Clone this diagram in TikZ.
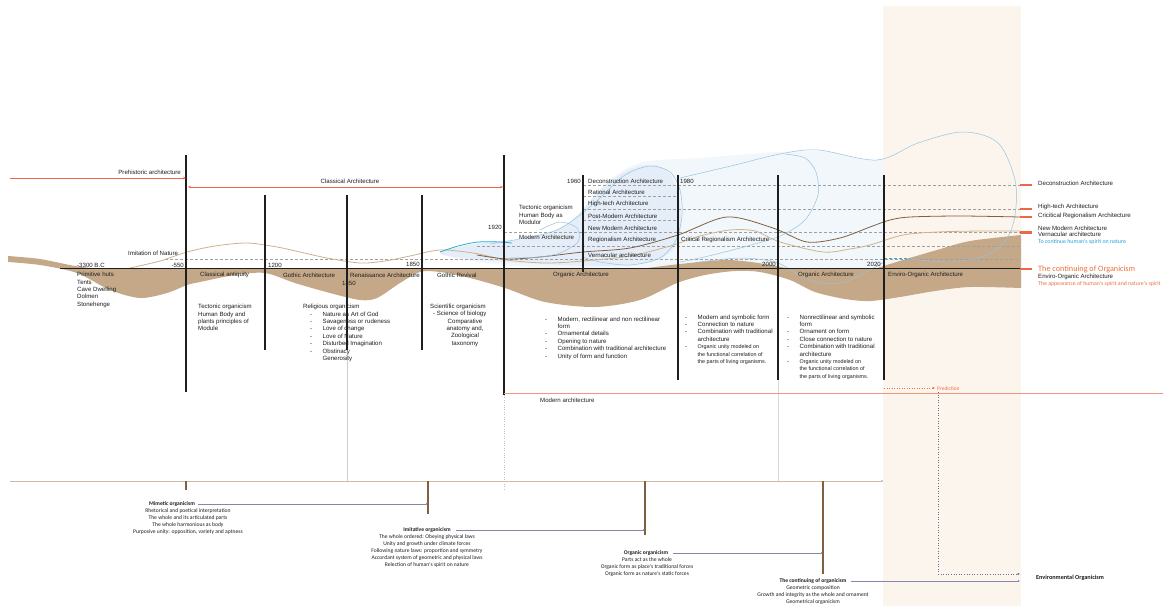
\documentclass[tikz,border=0pt]{standalone}
\usepackage{fontspec}
\setmainfont{Liberation Sans}
\newfontfamily\notefont{Carlito}
\usetikzlibrary{arrows.meta}

\definecolor{bandtan}{RGB}{196,168,136}
\definecolor{darkbrown}{RGB}{128,96,66}
\definecolor{lighttan}{RGB}{206,178,142}
\definecolor{peach}{RGB}{252,245,238}
\definecolor{redline}{RGB}{236,104,72}
\definecolor{orangetext}{RGB}{236,112,64}
\definecolor{bluetext}{RGB}{40,160,220}
\definecolor{blueline}{RGB}{150,195,222}
\definecolor{cyanline}{RGB}{40,172,212}
\definecolor{bluefill}{RGB}{242,247,251}
\definecolor{bluedeep}{RGB}{229,238,248}
\definecolor{linkgray}{RGB}{130,136,170}
\definecolor{timetan}{RGB}{205,188,165}
\definecolor{ink}{RGB}{30,30,30}

\newcommand{\itm}[1]{\makebox[12.5pt][l]{-}#1}
\newcommand{\cnt}[1]{\hspace*{12.5pt}#1}

\tikzset{
  lbl/.style={font=\fontsize{6.1}{7}\selectfont, inner sep=0pt, anchor=west, text=ink},
  lst/.style={font=\fontsize{6.1}{7.4}\selectfont, inner sep=0pt, anchor=north west, align=left, text=ink},
  era/.style={line width=1.2pt, draw=ink},
  guide/.style={draw=gray!75, line width=0.5pt, dash pattern=on 3pt off 2pt},
  note/.style={font=\notefont\fontsize{5.6}{7}\selectfont, inner sep=0pt, align=center, anchor=north, text=ink},
  notehead/.style={font=\notefont\bfseries\fontsize{5.6}{6}\selectfont, inner sep=0pt, text=ink},
  brtick/.style={draw=darkbrown, line width=1.2pt},
  link/.style={draw=linkgray, line width=0.4pt, -{Latex[length=2pt,width=2pt]}},
  redtick/.style={draw=redline, line width=1.5pt},
  blob/.style={draw=blueline, line width=0.5pt},
}

\begin{document}
\begin{tikzpicture}[x=1pt,y=-1pt]
    \useasboundingbox[fill=white] (0,0) rectangle (1163,608);

    % light blue cloud of the modern movements
    \fill[bluefill] plot[smooth cycle, tension=0.6] coordinates {(440,253) (480,243) (530,238) (570,222) (605,185) (640,163) (700,158) (780,152) (830,152) (875,160) (920,143) (963,132) (1000,143) (1016,190) (1012,232) (990,255) (950,263) (900,262) (850,282) (815,284) (780,268) (700,266) (620,272) (540,268) (480,262)};
    \fill[bluedeep] plot[smooth cycle, tension=0.6] coordinates {(440,253) (480,243) (530,238) (570,222) (605,185) (640,166) (668,172) (681,210) (676,245) (650,262) (600,266) (540,264) (480,260)};
    \fill[peach] (883,6) rectangle (1021,606);

    % organicism band
    \fill[bandtan] plot[smooth] coordinates {(8,256) (40,259) (75,266) (100,269)} -- (640,269)
      -- plot[smooth] coordinates {(640,269) (680,264) (727,260) (765,264) (790,269)} -- (874,269)
      -- plot[smooth] coordinates {(874,269) (903,260) (937,250) (970,241) (1021,235)} -- (1021,288)
      -- plot[smooth] coordinates {(1021,288) (970,287) (935,291) (900,297) (870,301) (845,299) (815,292) (790,280) (760,272) (735,271) (705,275) (677,283) (640,300) (595,307) (545,302) (505,288) (470,278) (440,272) (420,272) (400,283) (377,298) (360,300) (330,293) (295,283) (265,273) (235,275) (200,282) (187,285) (167,293) (140,298) (110,290) (77,273) (40,265) (8,262)} -- cycle;

    % guide levels
    \draw[guide] (165,259) -- (1020,259);
    \draw[guide] (477,246) -- (1020,246);
    \draw[guide] (504,232) -- (1020,232);
    \draw[guide] (583,220) -- (678,220);
    \draw[guide] (583,209) -- (1020,209);
    \draw[guide] (583,196) -- (678,196);
    \draw[guide] (583,185) -- (1020,185);
    \draw[guide, draw=cyanline] (884,258) -- (910,258);

    % trend lines
    \draw[lighttan, line width=0.8pt] plot[smooth] coordinates {(130,268) (160,261) (187,252) (215,246) (247,243) (277,247) (300,252) (327,258) (360,263) (385,261) (410,256) (440,250) (473,253) (507,260) (545,263) (583,261) (630,256) (670,246) (700,236) (730,230) (755,231) (780,242) (823,252) (850,249) (870,245) (903,235) (937,232) (980,231) (1020,231)};
    \draw[darkbrown, line width=0.8pt] plot[smooth] coordinates {(477,255) (507,259) (540,257) (583,252) (630,248) (678,235) (727,217) (773,228) (807,242) (840,238) (870,227) (890,220) (910,217) (960,216) (1020,217)};

    % cloud outlines
    \draw[cyanline, line width=0.8pt] plot[smooth] coordinates {(440,252) (458,246) (478,242) (500,242) (512,243)};
    \draw[blob] plot[smooth] coordinates {(490,244) (525,238) (557,230) (580,215) (600,198) (625,175) (650,166) (670,172) (680,190) (682,215) (676,240) (660,258) (630,265) (600,262) (583,257)};
    \draw[blob] plot[smooth] coordinates {(510,258) (540,257) (560,253) (578,242) (577,228) (560,222) (540,230)};
    \draw[blob] plot[smooth, tension=0.55] coordinates {(680,178) (735,165) (780,154) (818,150) (877,160) (918,143) (963,132) (998,143) (1015,180) (1015,215) (1006,240) (985,256) (950,262) (910,259)};
    \draw[blob] plot[smooth] coordinates {(785,154) (805,158) (816,172) (818,195) (805,220) (780,236) (740,248) (700,258) (680,262)};
    \draw[blob] plot[smooth] coordinates {(700,262) (740,258) (775,262) (800,275) (820,283) (845,282) (870,270) (884,262)};

    % time axis and eras
    \draw[ink, line width=0.9pt] (60,268) -- (1020,268);
    \draw[redtick] (1020,269) -- (1032,269);
    \draw[era] (186,155) -- (186,392);
    \draw[era] (265,195) -- (265,350);
    \draw[era] (347,195) -- (347,350);
    \draw[era] (422,195) -- (422,350);
    \draw[era] (504,155) -- (504,395);
    \draw[era] (583,175) -- (583,272);
    \draw[era] (678,175) -- (678,380);
    \draw[era] (778,175) -- (778,380);
    \draw[era] (884,175) -- (884,380);
    \draw[gray!40, line width=0.4pt] (347,352) -- (347,481);
    \draw[gray!50, line width=0.4pt, dotted] (504,395) -- (504,490);
    \draw[gray!30, line width=0.4pt] (778,380) -- (778,481);

    % right pointers
    \draw[redtick] (1020,185) -- (1032,185);
    \draw[redtick] (1020,209) -- (1032,209);
    \draw[redtick] (1020,217) -- (1032,217);
    \draw[redtick, line width=3pt] (1020,232) -- (1032,232);

    % periods
    \coordinate (preS) at (10,178);
    \coordinate (preE) at (186,178);
    \coordinate (clsS) at (188,187);
    \coordinate (clsE) at (503,187);
    \coordinate (modS) at (504,393);
    \coordinate (modE) at (1163,393);
    \draw[redline, line width=0.5pt, -{Stealth[length=3pt,width=2.5pt]}] (preS) -- (preE);
    \draw[redline, line width=0.5pt, {Stealth[length=3pt,width=2.5pt]}-{Stealth[length=3pt,width=2.5pt]}] (clsS) -- (clsE);
    \draw[redline!70, line width=0.6pt] (modS) -- (modE);
    \node[lbl, anchor=east] (prehist) at (181,172) {Prehistoric architecture};
    \node[lbl, anchor=center] (classic) at (350,181) {Classical Architecture};
    \node[lbl] (modarch) at (540,400) {Modern architecture};

    % dates
    \node[lbl] (imit) at (128,253) {Imitation of Nature};
    \node[lbl] (bc) at (77,265) {-3300 B.C};
    \node[lbl, anchor=east] (d550) at (184,265) {-550};
    \node[lbl] (d1200) at (268,265) {1200};
    \node[lbl] (d1450) at (342,283) {1450};
    \node[lbl] (d1850) at (406,264) {1850};
    \node[lbl, anchor=east] (d1920) at (502,227) {1920};
    \node[lbl, anchor=east] (d1960) at (581,181) {1960};
    \node[lbl] (d1980) at (680,181) {1980};
    \node[lbl, anchor=east] (d2000) at (776,264) {2000};
    \node[lbl, anchor=east] (d2020) at (881,264) {2020};

    % era names
    \node[lbl] (eClass) at (200,275) {Classical antiquity};
    \node[lbl] (eGoth) at (283,275) {Gothic Architecture};
    \node[lbl] (eRen) at (350,275) {Renaissance Architecture};
    \node[lbl] (eRev) at (437,275) {Gothic Revival};
    \node[lbl] (eOrg) at (553,275) {Organic Architecture};
    \node[lbl] (eOrgB) at (798,275) {Organic Architecture};
    \node[lbl] (eEnv) at (888,275) {Enviro-Organic Architecture};

    % movements 1960-1980
    \node[lbl] (mDec) at (588,181) {Deconstruction Architecture};
    \node[lbl] (mRat) at (588,192) {Rational Architecture};
    \node[lbl] (mHigh) at (588,204) {High-tech Architecture};
    \node[lbl] (mPost) at (588,216) {Post-Modern Architecture};
    \node[lbl] (mNew) at (588,228) {New Modern Architecture};
    \node[lbl] (mReg) at (588,240) {Regionalism Architecture};
    \node[lbl] (mVer) at (588,255) {Vernacular architecture};
    \node[lbl] (mCrit) at (681,240) {Critical Regionalism Architecture};
    \node[lst] (tect20) at (519,205) {Tectonic organicism\\Human Body as\\Modulor};
    \node[lbl] (mMod) at (519,237) {Modern Architecture};

    % descriptions
    \node[lst] (prim) at (77,272) {Primitive huts\\Tents\\Cave Dwelling\\Dolmen\\Stonehenge};
    \node[lst] (tect) at (198,304) {Tectonic organicism\\Human Body and\\plants principles of\\Module};
    \node[lbl] (relHead) at (303,307) {Religious organicism};
    \node[lst] (rel) at (310,311.5) {\itm{Nature as Art of God}\\\itm{Savageness or rudeness}\\\itm{Love of change}\\\itm{Love of Nature}\\\itm{Disturbed Imagination}\\\itm{Obstinacy}\\\cnt{Generosity}};
    \node[lbl] (sciHead) at (430,307) {Scientific organicism};
    \node[lbl] (sciBio) at (433,314) {- Science of biology};
    \node[lst, anchor=north, align=center] (sci) at (465,318.5) {Comparative\\anatomy and,\\Zoological\\taxonomy};
    \node[lst] (orgA) at (545,316.5) {\itm{Modern, rectilinear and non rectilinear}\\\cnt{form}\\\itm{Ornamental details}\\\itm{Opening to nature}\\\itm{Combination with traditional architecture}\\\itm{Unity of form and function}};
    \node[lst] (orgB) at (685,314.5) {\itm{Modern and symbolic form}\\\itm{Connection to nature}\\\itm{Combination with traditional}\\\cnt{architecture}\\\itm{\fontsize{5.4}{7.4}\selectfont Organic unity modeled on}\\\cnt{\fontsize{5.4}{7.4}\selectfont the functional correlation of}\\\cnt{\fontsize{5.4}{7.4}\selectfont the parts of living organisms.}};
    \node[lst] (orgC) at (787,314.5) {\itm{Nonrectilinear and symbolic}\\\cnt{form}\\\itm{Ornament on form}\\\itm{Close connection to nature}\\\itm{Combination with traditional}\\\cnt{architecture}\\\itm{\fontsize{5.4}{7.4}\selectfont Organic unity modeled on}\\\cnt{\fontsize{5.4}{7.4}\selectfont the functional correlation of}\\\cnt{\fontsize{5.4}{7.4}\selectfont the parts of living organisms.}};

    % right legend
    \node[lbl] (rDec) at (1038,183) {Deconstruction Architecture};
    \node[lbl] (rHigh) at (1038,207) {High-tech Architecture};
    \node[lbl] (rCrit) at (1038,216) {Cricitical Regionalism Architecture};
    \node[lbl] (rNew) at (1038,228) {New Modern Architecture};
    \node[lbl] (rVer) at (1038,234) {Vernacular architecture};
    \node[lbl, font=\notefont\fontsize{5.9}{6}\selectfont, text=bluetext] (rSpirit) at (1038,241.5) {To continue human's spirit on nature};
    \node[lbl, font=\notefont\fontsize{8.2}{8}\selectfont, text=orangetext] (rCont) at (1038,269) {The continuing of Organicism};
    \node[lbl] (rEnv) at (1038,277) {Enviro-Organic Architecture};
    \node[lbl, font=\notefont\fontsize{5.8}{6}\selectfont, text=orangetext] (rApp) at (1038,284) {The appearance of human's spirit and nature's spirit};

    % prediction
    \coordinate (predS) at (884,388);
    \coordinate (predE) at (935,388);
    \node[lbl, font=\notefont\fontsize{5.4}{6}\selectfont, text=orangetext] (pred) at (937,389) {Prediction};
    \draw[orangetext, dotted, line width=0.5pt, -{Latex[length=2.5pt,width=2.5pt]}] (predS) -- (predE);
    \coordinate (envC) at (938,574);
    \node[notehead, anchor=west, font=\notefont\bfseries\fontsize{6.2}{7}\selectfont] (envOrg) at (1036,578) {Environmental Organicism};
    \draw[linkgray!80!black, dotted, line width=0.6pt, -{Latex[length=2.5pt,width=2.5pt]}] (938,392) -- (envC) -- (1020,574);

    % organicism timeline
    \draw[timetan, line width=0.8pt, -{Latex[length=3pt,width=2.5pt]}] (10,481) -- (884,481);
    \coordinate (tkA) at (186,481);
    \coordinate (tkB) at (428,481);
    \coordinate (tkC) at (645,481);
    \coordinate (tkD) at (823,481);
    \draw[brtick] (tkA) -- ++(0,9);
    \draw[brtick] (tkB) -- ++(0,33);
    \draw[brtick] (tkC) -- ++(0,54);
    \draw[brtick] (tkD) -- ++(0,93);

    \node[notehead] (mimHead) at (172,504) {Mimetic organicism};
    \node[note] (mim) at (188,508) {Rhetorical and poetical interpretation\\The whole and its articulated parts\\The whole harmonious as body\\Purposive unity: opposition, variety and aptness};
    \draw[link] ([xshift=3pt]mimHead.east) -- (mimHead.east -| tkB);

    \node[notehead] (imiHead) at (427,530) {Imitative organicism};
    \node[note] (imi) at (427,534) {The whole ordered: Obeying physical laws\\Unity and growth under climate forces\\Following nature laws: proportion and symmetry\\Accordant system of geometric and physical laws\\Relection of human's spirit on nature};
    \draw[link] ([xshift=5pt]imiHead.east) -- (imiHead.east -| tkC);

    \node[notehead] (orgHead) at (646,553) {Organic organicism};
    \node[note] (org) at (647,557) {Parts act as the whole\\Organic form as place's traditional forces\\Organic form as nature's static forces};
    \draw[link] ([xshift=5pt]orgHead.east) -- (orgHead.east -| tkD);

    \node[notehead] (conHead) at (813,581) {The continuing of organicism};
    \node[note] (con) at (813,585) {Geometric composition\\Growth and integrity as the whole and ornament\\Geometrical organicism};
    \coordinate (conE) at (1020,581);
    \draw[link] ([xshift=4pt]conHead.east) -- (conE);
\end{tikzpicture}
\end{document}
